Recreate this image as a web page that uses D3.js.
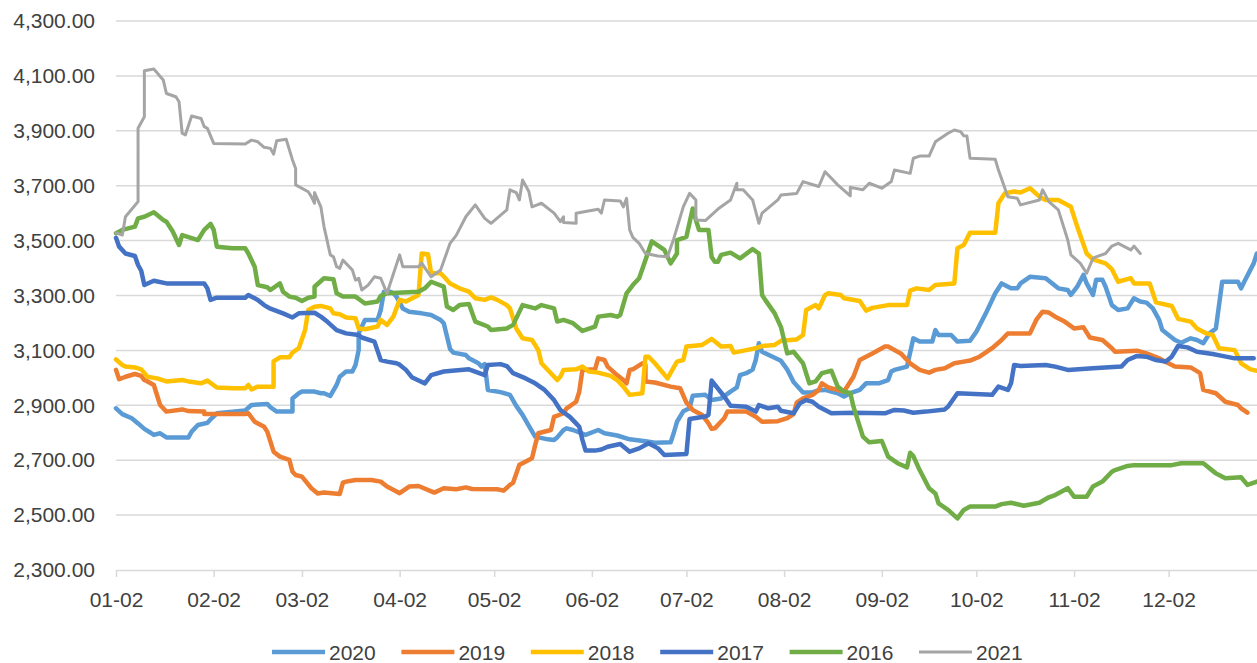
<!DOCTYPE html>
<html>
<head>
<meta charset="utf-8">
<script src="https://cdn.jsdelivr.net/npm/d3@7"></script>
<style>
	html, body { margin: 0; padding: 0; background: #fff; }
	svg { display: block; font-family: 'Liberation Sans', Arial, sans-serif; }
</style>
</head>
<body>
<svg id="chart"></svg>
<script>
'use strict';

// [day of year (Jan 2 = 1), price]
var s2020 = [[1,2889],[3,2868],[6,2853],[8,2834],[10,2814],[12,2800],[13,2792],[15,2798],[17,2783],[24,2783],[25,2804],[27,2828],[30,2836],[31,2849],[33,2871],[38,2877],[42,2881],[44,2901],[49,2905],[50,2893],[52,2877],[57,2877],[57,2925],[59,2944],[60,2950],[64,2950],[66,2944],[67,2944],[69,2934],[71,2974],[72,3004],[74,3023],[76,3023],[77,3047],[78,3101],[78,3162],[80,3211],[84,3211],[85,3247],[86,3314],[88,3314],[89,3308],[90,3296],[92,3253],[94,3241],[98,3235],[101,3229],[104,3211],[105,3199],[107,3105],[108,3092],[112,3083],[113,3071],[116,3053],[117,3041],[118,3050],[119,2956],[123,2948],[126,2938],[128,2898],[130,2865],[132,2825],[134,2786],[138,2776],[140,2774],[141,2783],[143,2810],[144,2816],[146,2810],[150,2792],[154,2810],[156,2798],[160,2790],[164,2776],[169,2769],[172,2764],[177,2765],[178,2800],[179,2840],[181,2878],[183,2889],[184,2935],[188,2938],[190,2919],[193,2925],[196,2950],[198,2965],[199,3010],[201,3017],[203,3030],[204,3065],[205,3126],[206,3095],[210,3073],[212,3062],[214,3030],[216,2985],[219,2947],[222,2947],[224,2955],[226,2956],[230,2944],[232,2932],[234,2944],[237,2956],[239,2980],[243,2980],[246,2992],[247,3023],[248,3029],[252,3041],[254,3144],[256,3132],[260,3132],[261,3174],[262,3156],[266,3156],[268,3132],[272,3135],[274,3168],[277,3235],[280,3308],[282,3344],[285,3326],[287,3326],[288,3344],[291,3368],[296,3363],[300,3326],[303,3320],[304,3302],[306,3332],[308,3375],[309,3344],[311,3302],[312,3357],[314,3357],[315,3332],[317,3265],[319,3247],[322,3253],[324,3290],[326,3278],[328,3274],[330,3253],[332,3211],[333,3174],[337,3138],[339,3128],[342,3144],[344,3138],[346,3126],[348,3162],[350,3180],[352,3350],[357,3350],[358,3326],[359,3350],[362,3417],[363,3453]];

var s2019 = [[1,3029],[2,2995],[4,3004],[7,3014],[9,3007],[10,2992],[11,2987],[13,2974],[15,2901],[17,2877],[22,2885],[24,2879],[29,2877],[29,2868],[42,2868],[43,2871],[45,2840],[48,2822],[49,2804],[51,2731],[53,2713],[56,2701],[57,2658],[58,2646],[60,2640],[63,2598],[65,2579],[67,2582],[72,2577],[73,2618],[74,2622],[77,2628],[82,2628],[85,2622],[87,2604],[90,2586],[91,2580],[94,2604],[97,2606],[102,2582],[105,2598],[109,2594],[112,2601],[114,2595],[122,2594],[124,2589],[126,2610],[127,2618],[129,2683],[130,2689],[133,2707],[134,2755],[135,2798],[139,2810],[140,2858],[143,2871],[144,2889],[147,2913],[148,2950],[149,3029],[153,3031],[154,3071],[156,3065],[157,3041],[160,3010],[162,2992],[163,2980],[164,3029],[165,3031],[168,3053],[169,3047],[169,2987],[172,2983],[177,2968],[180,2962],[182,2910],[184,2883],[187,2865],[189,2834],[190,2814],[191,2816],[194,2853],[195,2877],[201,2877],[204,2858],[206,2840],[211,2842],[214,2853],[216,2868],[217,2910],[219,2925],[222,2938],[224,2956],[225,2980],[227,2965],[230,2956],[232,2950],[235,3004],[237,3065],[241,3089],[245,3114],[246,3114],[250,3089],[253,3053],[256,3029],[259,3019],[261,3029],[264,3035],[267,3053],[270,3059],[272,3063],[275,3077],[279,3108],[282,3138],[284,3162],[291,3162],[293,3211],[295,3241],[297,3238],[299,3223],[302,3205],[305,3180],[308,3184],[310,3147],[314,3138],[317,3108],[318,3095],[325,3099],[328,3089],[332,3071],[334,3059],[337,3041],[342,3038],[345,3017],[346,2956],[350,2944],[353,2913],[357,2901],[358,2889],[360,2873]];

var s2018 = [[1,3067],[3,3047],[4,3041],[7,3038],[9,3031],[11,3004],[14,2998],[17,2987],[22,2992],[24,2987],[28,2980],[30,2990],[33,2965],[38,2962],[42,2962],[43,2974],[44,2958],[46,2968],[51,2968],[51,3060],[53,3075],[56,3075],[57,3092],[59,3108],[61,3174],[62,3247],[64,3259],[66,3262],[69,3253],[70,3235],[72,3232],[74,3220],[77,3217],[78,3180],[80,3177],[84,3187],[85,3211],[87,3193],[89,3223],[91,3284],[93,3278],[97,3302],[98,3453],[100,3450],[101,3381],[104,3381],[105,3369],[107,3344],[110,3326],[113,3314],[115,3290],[118,3284],[120,3293],[122,3284],[125,3265],[126,3253],[128,3180],[130,3144],[133,3138],[135,3101],[136,3053],[139,3017],[141,2992],[142,3004],[143,3029],[147,3031],[149,3041],[151,3023],[154,3019],[158,3007],[160,2992],[162,2968],[164,2938],[168,2944],[169,3077],[170,3077],[172,3053],[176,2998],[179,3059],[181,3065],[182,3114],[187,3120],[190,3142],[193,3114],[196,3116],[197,3092],[201,3101],[204,3108],[206,3116],[210,3120],[212,3135],[217,3140],[219,3156],[220,3247],[223,3265],[224,3253],[226,3302],[227,3308],[231,3302],[232,3290],[237,3280],[239,3245],[241,3255],[246,3265],[252,3265],[253,3318],[255,3326],[259,3320],[261,3338],[267,3344],[268,3472],[270,3484],[272,3529],[280,3529],[281,3636],[283,3672],[286,3679],[288,3675],[291,3691],[294,3660],[296,3648],[300,3648],[304,3623],[306,3551],[309,3453],[311,3432],[315,3417],[317,3396],[319,3350],[323,3363],[324,3344],[329,3344],[331,3275],[336,3262],[338,3215],[342,3205],[344,3180],[347,3162],[349,3156],[351,3108],[356,3101],[358,3053],[361,3031],[363,3026]];

var s2017 = [[1,3510],[2,3478],[4,3453],[7,3444],[8,3411],[9,3390],[10,3338],[13,3354],[17,3344],[29,3344],[30,3326],[31,3284],[33,3292],[42,3292],[43,3302],[46,3284],[48,3265],[50,3252],[54,3235],[57,3220],[59,3235],[64,3237],[66,3223],[68,3205],[71,3174],[74,3162],[78,3156],[79,3147],[83,3132],[85,3065],[87,3059],[90,3053],[91,3048],[93,3029],[95,3001],[99,2980],[101,3010],[105,3023],[113,3031],[118,3010],[119,3047],[123,3050],[125,3043],[127,3017],[131,2998],[134,2980],[137,2956],[140,2919],[142,2883],[145,2858],[147,2834],[148,2822],[149,2774],[150,2735],[153,2735],[155,2739],[157,2749],[161,2759],[164,2731],[167,2743],[170,2762],[173,2743],[175,2719],[182,2723],[183,2850],[188,2859],[189,2865],[190,2990],[194,2932],[196,2898],[201,2895],[204,2877],[205,2901],[208,2889],[211,2895],[212,2880],[216,2871],[218,2907],[220,2919],[222,2913],[224,2895],[228,2871],[235,2873],[245,2871],[248,2883],[251,2881],[254,2873],[258,2877],[264,2885],[265,2895],[268,2944],[279,2938],[281,2968],[284,2956],[285,2980],[286,3047],[288,3043],[296,3047],[299,3041],[303,3029],[311,3035],[320,3041],[322,3065],[325,3080],[328,3077],[331,3065],[334,3059],[336,3077],[338,3116],[341,3111],[344,3095],[349,3087],[352,3080],[356,3071],[362,3071]];

var s2016 = [[1,3527],[3,3539],[7,3551],[8,3581],[10,3587],[13,3603],[16,3575],[17,3569],[19,3533],[21,3484],[22,3520],[27,3502],[29,3539],[31,3561],[32,3539],[33,3478],[38,3472],[42,3472],[43,3453],[45,3405],[46,3338],[49,3330],[50,3320],[53,3344],[54,3314],[56,3296],[58,3292],[60,3280],[62,3292],[64,3296],[64,3332],[67,3363],[70,3359],[71,3308],[73,3296],[77,3296],[80,3271],[84,3278],[85,3299],[87,3308],[97,3314],[99,3326],[101,3350],[105,3332],[106,3260],[108,3247],[110,3265],[113,3269],[115,3205],[119,3187],[120,3174],[125,3180],[127,3193],[130,3265],[134,3253],[136,3265],[140,3253],[141,3205],[143,3211],[146,3199],[149,3171],[153,3187],[154,3223],[158,3229],[160,3223],[161,3229],[163,3308],[165,3338],[167,3363],[169,3429],[171,3497],[175,3466],[177,3417],[179,3453],[179,3502],[182,3514],[184,3617],[185,3575],[186,3539],[189,3539],[190,3440],[191,3423],[192,3423],[193,3448],[196,3456],[199,3435],[203,3469],[205,3453],[206,3302],[207,3284],[210,3235],[212,3185],[214,3089],[216,3095],[219,3053],[221,2980],[223,2987],[225,3017],[228,3026],[230,2968],[232,2950],[234,2945],[235,2895],[238,2786],[240,2765],[244,2770],[246,2713],[249,2689],[252,2674],[253,2727],[254,2715],[256,2664],[259,2598],[261,2579],[262,2543],[265,2519],[268,2488],[270,2519],[272,2531],[280,2531],[282,2540],[285,2545],[289,2534],[294,2545],[297,2565],[299,2573],[303,2598],[305,2567],[309,2567],[311,2604],[314,2622],[317,2658],[318,2664],[322,2679],[324,2682],[336,2682],[339,2689],[346,2689],[350,2652],[351,2646],[353,2634],[358,2638],[360,2610],[363,2622]];

var s2021 = [[1,3528],[3,3520],[4,3587],[8,3642],[8,3909],[10,3951],[10,4119],[13,4125],[16,4085],[17,4036],[20,4024],[21,4006],[22,3891],[23,3885],[25,3954],[28,3945],[29,3915],[30,3909],[32,3854],[42,3852],[44,3866],[46,3860],[48,3840],[50,3836],[51,3815],[52,3864],[55,3869],[57,3794],[58,3763],[58,3703],[62,3678],[63,3660],[64,3636],[64,3675],[66,3623],[67,3551],[69,3448],[70,3441],[71,3405],[72,3399],[73,3429],[76,3393],[77,3356],[78,3363],[79,3320],[81,3338],[83,3368],[85,3363],[87,3308],[91,3448],[92,3405],[97,3405],[98,3418],[101,3368],[104,3393],[107,3490],[109,3520],[112,3587],[115,3630],[118,3581],[120,3563],[125,3612],[126,3685],[128,3675],[129,3648],[130,3721],[132,3679],[133,3623],[136,3636],[140,3600],[142,3569],[143,3587],[143,3566],[147,3563],[147,3600],[150,3606],[154,3614],[155,3600],[156,3648],[161,3644],[162,3623],[163,3654],[164,3539],[165,3512],[167,3490],[169,3453],[173,3444],[176,3441],[178,3508],[181,3623],[183,3672],[185,3648],[185,3575],[188,3573],[192,3615],[196,3648],[198,3709],[198,3685],[200,3685],[203,3648],[205,3563],[206,3600],[211,3648],[212,3666],[217,3672],[219,3715],[224,3697],[226,3751],[228,3727],[230,3703],[234,3663],[234,3694],[238,3685],[240,3709],[244,3691],[247,3715],[248,3757],[253,3745],[254,3800],[256,3808],[259,3808],[261,3860],[265,3891],[267,3903],[269,3897],[270,3882],[271,3881],[272,3800],[280,3796],[281,3757],[284,3660],[287,3654],[288,3630],[294,3648],[295,3685],[297,3642],[300,3612],[303,3502],[304,3448],[307,3417],[309,3381],[311,3435],[312,3441],[315,3453],[317,3480],[319,3490],[323,3466],[324,3480],[326,3453]];

var seriesNames = ['2020', '2019', '2018', '2017', '2016', '2021'];
var seriesData = [s2020, s2019, s2018, s2017, s2016, s2021];
var colors = ['#5B9BD5', '#ED7D31', '#FFC000', '#4472C4', '#70AD47', '#A5A5A5'];

var yTicks = [2300, 2500, 2700, 2900, 3100, 3300, 3500, 3700, 3900, 4100, 4300];
var tickMonths = [0, 1, 2, 3, 4, 5, 6, 7, 8, 9, 10, 11];

var w = 1257,
	h = 663,
	plotLeft = 116,
	plotRight = 1260,
	plotTop = 21,
	plotBottom = 570,
	textColor = '#404040',
	gridColor = '#d9d9d9',
	fontSize = 21,
	svg, x, y, line;

function dayToDate(d) {
	return new Date(2021, 0, 1 + d);
}

svg = d3.select('#chart')
	.attr('width', w)
	.attr('height', h);

x = d3.scaleTime()
	.domain([dayToDate(1), dayToDate(364)])
	.range([plotLeft, plotRight]);

y = d3.scaleLinear()
	.domain([2300, 4300])
	.range([plotBottom, plotTop]);

// horizontal gridlines
svg.append('g')
	.selectAll('line')
	.data(yTicks.slice(1))
	.enter()
	.append('line')
	.attr('x1', plotLeft)
	.attr('x2', w)
	.attr('y1', function (d) { return y(d); })
	.attr('y2', function (d) { return y(d); })
	.attr('stroke', gridColor)
	.attr('stroke-width', 1.5);

// y axis labels
var yAxis = svg.append('g')
	.attr('transform', 'translate(95,0)')
	.call(d3.axisLeft(y)
		.tickValues(yTicks)
		.tickFormat(d3.format(',.2f'))
		.tickSize(0)
		.tickPadding(0));
yAxis.select('.domain').remove();
yAxis.selectAll('text')
	.attr('fill', textColor)
	.attr('font-size', fontSize)
	.attr('font-family', "'Liberation Sans', Arial, sans-serif");

// x axis
var xAxis = svg.append('g')
	.attr('transform', 'translate(0,' + plotBottom + ')')
	.call(d3.axisBottom(x)
		.tickValues(tickMonths.map(function (m) { return new Date(2021, m, 2); }))
		.tickFormat(d3.timeFormat('%m-%d'))
		.tickSize(7)
		.tickSizeOuter(0)
		.tickPadding(15));
xAxis.select('.domain')
	.attr('stroke', gridColor)
	.attr('stroke-width', 1.5);
xAxis.selectAll('.tick line')
	.attr('stroke', gridColor)
	.attr('stroke-width', 1.5);
xAxis.selectAll('text')
	.attr('fill', textColor)
	.attr('font-size', fontSize)
	.attr('font-family', "'Liberation Sans', Arial, sans-serif");

// series
line = d3.line()
	.x(function (d) { return x(dayToDate(d[0])); })
	.y(function (d) { return y(d[1]); });

svg.append('g')
	.selectAll('path')
	.data(seriesData)
	.enter()
	.append('path')
	.attr('d', line)
	.attr('fill', 'none')
	.attr('stroke', function (d, i) { return colors[i]; })
	.attr('stroke-width', function (d, i) { return seriesNames[i] === '2021' ? 3 : 4.5; })
	.attr('stroke-linejoin', 'round')
	.attr('stroke-linecap', 'round');

// legend
var legend = svg.append('g')
	.selectAll('g')
	.data(seriesNames)
	.enter()
	.append('g')
	.attr('transform', function (d, i) { return 'translate(' + (272 + i * 129.4) + ',652)'; });

legend.append('line')
	.attr('x1', 0)
	.attr('x2', 53)
	.attr('stroke', function (d, i) { return colors[i]; })
	.attr('stroke-width', function (d) { return d === '2021' ? 3 : 4.5; });

legend.append('text')
	.attr('x', 57)
	.attr('y', 7.5)
	.attr('fill', textColor)
	.attr('font-size', fontSize)
	.text(function (d) { return d; });
</script>
</body>
</html>
